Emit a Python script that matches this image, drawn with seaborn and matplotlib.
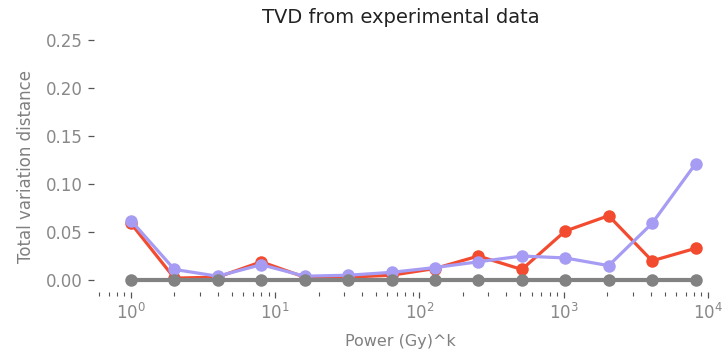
import numpy as np
import pandas as pd
import seaborn as sns
import matplotlib.pyplot as plt

# Powers 2^0 .. 2^13
power = [1, 2, 4, 8, 16, 32, 64, 128, 256, 512, 1024, 2048, 4096, 8192]

# TVD values
tvd_red = [0.059, 0.002, 0.003, 0.019, 0.003, 0.003, 0.005, 0.012,
           0.025, 0.011, 0.051, 0.067, 0.020, 0.033]
tvd_purple = [0.062, 0.011, 0.004, 0.016, 0.004, 0.005, 0.008, 0.013,
              0.019, 0.025, 0.023, 0.015, 0.059, 0.121]
tvd_ideal = [0.0] * len(power)

series_names = ["red", "purple", "ideal"]
series_colors = ["#F24B2F", "#A69CF4", "#828282"]

df = pd.DataFrame({
    "power": power * 3,
    "tvd": tvd_red + tvd_purple + tvd_ideal,
    "series": np.repeat(series_names, len(power)),
})

sns.set_style("ticks")
plt.rcParams['font.family'] = ['DejaVu Sans']

fig = plt.figure(figsize=(7.26, 3.51), dpi=100)
ax = fig.add_axes([0.1288, 0.168, 0.8464, 0.718])

for name, color in zip(series_names, series_colors):
    sub = df[df["series"] == name]
    sns.lineplot(
        data=sub, x="power", y="tvd", ax=ax,
        color=color, marker="o", markersize=9, markeredgewidth=0,
        linewidth=3.0 if name == "ideal" else 2.3,
    )

ax.set_xscale("log")
ax.set_xlim(0.55, 10000)
ax.set_ylim(-0.0125, 0.25)
ax.set_yticks([0.0, 0.05, 0.10, 0.15, 0.20, 0.25])
ax.set_yticklabels(["0.00", "0.05", "0.10", "0.15", "0.20", "0.25"])

sns.despine(ax=ax, left=True, bottom=True)
ax.tick_params(axis="both", which="major", labelsize=12, labelcolor="#888888",
               color="#555555", length=4, width=0.9)
ax.tick_params(axis="x", which="minor", color="#555555", length=3, width=0.8)

ax.set_xlabel("Power (Gy)^k", fontsize=11.5, color="#808080", labelpad=8)
ax.set_ylabel("Total variation distance", fontsize=12, color="#808080", labelpad=8)
ax.set_title("TVD from experimental data", fontsize=14, color="#222222", pad=12)

plt.savefig("out.png", dpi=100)
plt.close()
